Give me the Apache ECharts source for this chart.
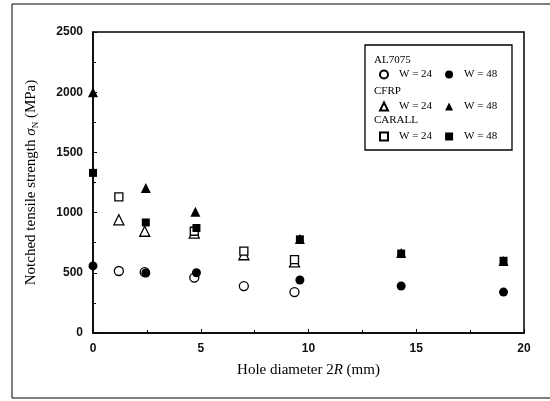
<!DOCTYPE html>
<html><head><meta charset="utf-8">
<script src="https://cdn.jsdelivr.net/npm/echarts@6/dist/echarts.min.js"></script>
<style>html,body{margin:0;padding:0;background:#fff}#c{width:550px;height:401px}</style>
</head><body><div id="c"></div>
<script>
// Data (x: hole diameter 2R in mm, y: notched strength in MPa)
const al24 = [[1.2,515],[2.4,505],[4.7,460],[7.0,390],[9.35,340]];
const al48 = [[0,557],[2.45,498],[4.8,500],[9.6,440],[14.3,390],[19.05,340]];
const cf24 = [[1.2,940],[2.4,845],[4.7,830],[7.0,650],[9.35,590]];
const cf48 = [[0,2000],[2.45,1205],[4.75,1008],[9.6,780],[14.3,665],[19.05,598]];
const ca24 = [[1.2,1130],[4.7,845],[7.0,680],[9.35,610]];
const ca48 = [[0,1330],[2.45,918],[4.8,872],[9.6,778],[14.3,660],[19.05,600]];
const xTicks = [0,5,10,15,20];
const yTicks = [0,500,1000,1500,2000,2500];

const serif = '"Liberation Serif","Times New Roman",serif';
const sans = '"Liberation Sans",Arial,sans-serif';
const openStyle = {color:'#fff', borderColor:'#000', borderWidth:1.3, opacity:1};
const fillStyle = {color:'#000', borderColor:'#000', borderWidth:0, opacity:1};

function ser(name, data, symbol, size, style){
  return {name, type:'scatter', data, symbol, symbolSize:size, itemStyle:style,
    emphasis:{disabled:true}, z: style===openStyle?3:4};
}
const chart = echarts.init(document.getElementById('c'), null, {renderer:'canvas'});
function leg(names, top){
  return {data:names, left:379, top, orient:'horizontal', itemWidth:8, itemHeight:8,
    itemGap:13, padding:0, selectedMode:false,
    formatter: n => n.split('|')[1],
    textStyle:{fontFamily:serif, fontSize:11, color:'#000', padding:[0,0,0,6]}};
}
chart.setOption({
  animation:false,
  grid:{left:93, right:26, top:32, bottom:68, show:true, borderColor:'#000', borderWidth:1.5},
  xAxis:{type:'value', min:0, max:20, interval:5,
    axisLine:{show:true, onZero:false, lineStyle:{color:'#000', width:1.5}},
    axisTick:{show:true, inside:true, length:4, lineStyle:{color:'#000'}},
    minorTick:{show:true, splitNumber:2, length:3, lineStyle:{color:'#000'}},
    splitLine:{show:false},
    axisLabel:{margin:10, fontFamily:sans, fontSize:12, fontWeight:'bold', color:'#111',
      formatter: v => xTicks.includes(v) ? String(v) : ''},
    name:'{a|Hole diameter 2}{i|R}{a| (mm)}', nameLocation:'middle', nameGap:30,
    nameTextStyle:{rich:{a:{fontFamily:serif, fontSize:15, color:'#000'}, i:{fontFamily:serif, fontSize:15, fontStyle:'italic', color:'#000'}}}
  },
  yAxis:{type:'value', min:0, max:2500, interval:500,
    axisLine:{show:true, onZero:false, lineStyle:{color:'#000', width:1.5}},
    axisTick:{show:true, inside:true, length:4, lineStyle:{color:'#000'}},
    minorTick:{show:true, splitNumber:2, length:3, lineStyle:{color:'#000'}},
    splitLine:{show:false},
    axisLabel:{margin:10, fontFamily:sans, fontSize:12, fontWeight:'bold', color:'#111',
      formatter: v => yTicks.includes(v) ? String(v) : ''},
    name:'{a|Notched tensile strength }{i|σ}{s|N}{a| (MPa)}', nameLocation:'middle', nameGap:53,
    nameTextStyle:{rich:{a:{fontFamily:serif, fontSize:15, color:'#000'},
      i:{fontFamily:serif, fontSize:15, fontStyle:'italic', color:'#000'},
      s:{fontFamily:serif, fontSize:9, color:'#000', verticalAlign:'bottom', padding:[8,0,0,0]}}}
  },
  legend:[
    leg(['AL7075|W = 24','AL7075|W = 48'], 69),
    leg(['CFRP|W = 24','CFRP|W = 48'], 101),
    leg(['CARALL|W = 24','CARALL|W = 48'], 131)
  ],
  series:[
    ser('AL7075|W = 24', al24, 'circle', 9, openStyle),
    ser('AL7075|W = 48', al48, 'circle', 9, fillStyle),
    ser('CFRP|W = 24', cf24, 'triangle', 10, openStyle),
    ser('CFRP|W = 48', cf48, 'triangle', 10, fillStyle),
    ser('CARALL|W = 24', ca24, 'rect', 8, openStyle),
    ser('CARALL|W = 48', ca48, 'rect', 8, fillStyle)
  ],
  graphic:[
    {type:'rect', shape:{x:12, y:4, width:560, height:394}, style:{fill:'none', stroke:'#000', lineWidth:1}, silent:true},
    {type:'rect', shape:{x:365, y:45, width:147, height:105}, style:{fill:'#fff', stroke:'#000', lineWidth:1.3}, z:-1, silent:true},
    {type:'text', left:374, top:55, style:{text:'AL7075', font:'11px '+serif, fill:'#000'}},
    {type:'text', left:374, top:86, style:{text:'CFRP', font:'11px '+serif, fill:'#000'}},
    {type:'text', left:374, top:115, style:{text:'CARALL', font:'11px '+serif, fill:'#000'}}
  ]
});
</script></body></html>
